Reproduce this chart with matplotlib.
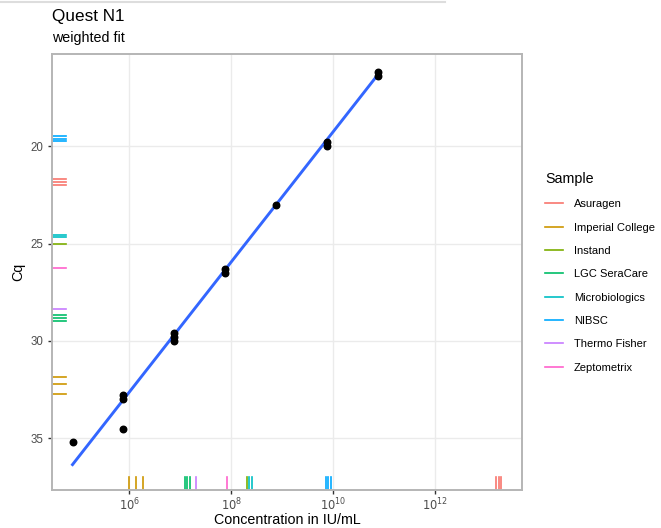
import numpy as np
import matplotlib.pyplot as plt
from matplotlib.lines import Line2D
import matplotlib.transforms as mtransforms

plt.rcParams['font.family'] = ['Liberation Sans', 'DejaVu Sans']

# standard curve points (concentration in IU/mL, Cq)
std_conc = [7.7e4, 7.7e5, 7.7e5, 7.7e5, 7.7e6, 7.7e6, 7.7e6,
            7.7e7, 7.7e7, 7.7e8, 7.7e9, 7.7e9, 7.7e10, 7.7e10]
std_cq = [35.2, 32.8, 33.0, 34.5, 29.6, 29.8, 30.0,
          26.3, 26.5, 23.0, 19.8, 20.0, 16.2, 16.4]

# weighted fit: Cq = fit_intercept + fit_slope * log10(conc)
fit_intercept = 52.7
fit_slope = -3.345

# sample rugs (log10 concentration, Cq)
samples = ["Asuragen", "Imperial College", "Instand", "LGC SeraCare",
           "Microbiologics", "NIBSC", "Thermo Fisher", "Zeptometrix"]
sample_colors = ["#F8766D", "#CD9600", "#7CAE00", "#00BE67",
                 "#00BFC4", "#00A9FF", "#C77CFF", "#FF61CC"]
sample_logconc = {
    "Asuragen": [13.19, 13.25, 13.30],
    "Imperial College": [6.0, 6.14, 6.26],
    "Instand": [8.30],
    "LGC SeraCare": [7.09, 7.14, 7.19],
    "Microbiologics": [8.35, 8.40],
    "NIBSC": [9.85, 9.90, 9.95],
    "Thermo Fisher": [7.31],
    "Zeptometrix": [7.91],
}
sample_cq = {
    "Asuragen": [21.7, 21.85, 22.0],
    "Imperial College": [31.86, 32.2, 32.73],
    "Instand": [25.0],
    "LGC SeraCare": [28.66, 28.83, 29.0],
    "Microbiologics": [24.55, 24.65],
    "NIBSC": [19.45, 19.6, 19.75],
    "Thermo Fisher": [28.35],
    "Zeptometrix": [26.27],
}

fig = plt.figure(figsize=(6.61, 5.28), dpi=100)
ax = fig.add_axes([52.3 / 661, 1 - 490 / 528, (522.3 - 52.3) / 661, (490 - 53.5) / 528])

ax.set_xscale('log')
ax.set_xlim(10 ** 4.49, 10 ** 13.71)
ax.set_ylim(37.66, 15.23)

ax.set_xticks([1e6, 1e8, 1e10, 1e12])
ax.set_xticklabels([r'$10^{6}$', r'$10^{8}$', r'$10^{10}$', r'$10^{12}$'])
ax.xaxis.set_minor_locator(plt.NullLocator())
ax.set_yticks([20, 25, 30, 35])
ax.grid(True, color='#EBEBEB', lw=1.0, zorder=0)
ax.set_axisbelow(True)

for s in ax.spines.values():
    s.set_color('#B5B5B5')
    s.set_linewidth(1.4)
ax.tick_params(colors='#4D4D4D', labelsize=8.3, length=3, width=1, color='#333333')
ax.tick_params(axis='x', pad=1.5)

# rugs
rug_x = mtransforms.blended_transform_factory(ax.transData, ax.transAxes)
rug_y = mtransforms.blended_transform_factory(ax.transAxes, ax.transData)
for name, col in zip(samples, sample_colors):
    for lc in sample_logconc[name]:
        ax.plot([10 ** lc, 10 ** lc], [0, 0.03], color=col, lw=1.2, transform=rug_x, zorder=2)
    for cq in sample_cq[name]:
        ax.plot([0, 0.03], [cq, cq], color=col, lw=1.2, transform=rug_y, zorder=2)

# fit line
fit_x = np.array([min(std_conc), max(std_conc)])
fit_y = fit_intercept + fit_slope * np.log10(fit_x)
ax.plot(fit_x, fit_y, color='#3366FF', lw=2.1, zorder=3)

ax.scatter(std_conc, std_cq, s=22, color='black', zorder=4)

ax.set_ylabel('Cq', fontsize=10.3, labelpad=4)
fig.text(287 / 661, 1 - 520 / 528, 'Concentration in IU/mL', fontsize=10.3,
         ha='center', va='center')

fig.text(52 / 661, 1 - 17 / 528, 'Quest N1', fontsize=12.3, va='center', ha='left')
fig.text(52 / 661, 1 - 38 / 528, 'weighted fit', fontsize=10.3, va='center', ha='left')

# legend
handles = [Line2D([0], [0], color=c, lw=1.2) for c in sample_colors]
leg = fig.legend(handles, samples, title='Sample', loc='upper left',
                 bbox_to_anchor=(536 / 661, 1 - 163 / 528), frameon=False,
                 fontsize=8, title_fontsize=10.3, handlelength=1.6,
                 handletextpad=1.0, labelspacing=1.2, borderpad=0.3)
leg._legend_box.align = 'left'

# screenshot edge line at the top
fig.add_artist(Line2D([0, 445 / 661], [1 - 1.5 / 528, 1 - 1.5 / 528], color='#DDDDDD', lw=1.5))

fig.savefig('out.png', dpi=100)
